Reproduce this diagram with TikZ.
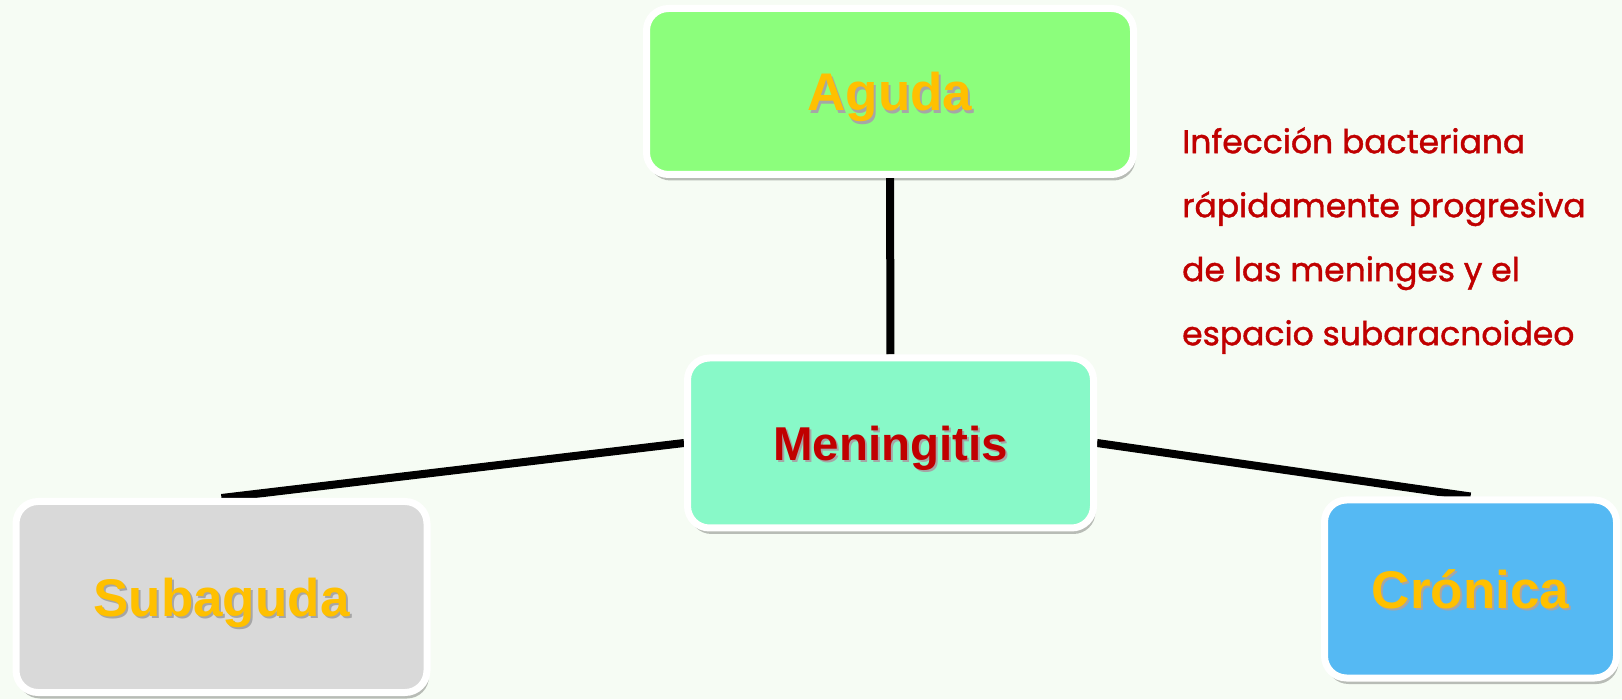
\documentclass[tikz,border=0pt]{standalone}
\usepackage{fontspec}
\setmainfont{Liberation Sans}
\newfontfamily\handfont[FakeBold=1.2]{Poppins}
\usetikzlibrary{positioning,backgrounds,shadows}
\definecolor{paper}{HTML}{F6FCF4}
\definecolor{acute}{HTML}{8CFE7C}
\definecolor{core}{HTML}{88F9C8}
\definecolor{subacute}{HTML}{D9D9D9}
\definecolor{chronic}{HTML}{55B9F3}
\definecolor{gold}{HTML}{FFC000}
\definecolor{darkred}{HTML}{C00000}
\definecolor{ink}{HTML}{000000}
\newcommand{\shadowtext}[1]{\makebox[0pt][l]{\kern2pt\raisebox{-2.5pt}{\textcolor{black!35}{#1}}}#1}
\tikzset{
  box/.style={draw=white,line width=7pt,rounded corners=22pt,inner sep=0pt,align=center,
    text depth=0pt,font=\bfseries\fontsize{53}{60}\selectfont,text=gold,
    drop shadow={shadow xshift=2pt,shadow yshift=-6pt,opacity=.25,fill=black}},
  acutebox/.style={box,fill=acute,minimum width=487pt,minimum height=166pt},
  corebox/.style={box,fill=core,minimum width=406pt,minimum height=170pt,
    font=\bfseries\fontsize{47.5}{54}\selectfont,text=darkred},
  subacutebox/.style={box,fill=subacute,minimum width=411pt,minimum height=191pt},
  chronicbox/.style={box,fill=chronic,minimum width=292pt,minimum height=178pt},
  link/.style={draw=ink,line width=8pt},
  note/.style={align=left,inner sep=0pt,text=darkred,font=\handfont\fontsize{33}{64}\selectfont},
}
\begin{document}
\begin{tikzpicture}[x=1pt,y=1pt]
\useasboundingbox (0,0) rectangle (1622,699);

\node[acutebox] (aguda) at (890,607.5) {\shadowtext{Aguda}};
\node[corebox] (meningitis) at (890.5,256) {\shadowtext{Meningitis}};
\node[subacutebox] (subaguda) at (221.5,102) {\shadowtext{Subaguda}};
\node[chronicbox] (cronica) at (1470.5,110) {\shadowtext{Crónica}};

\node[note,anchor=north west] (def) at (1182,572)
{Infección bacteriana\\rápidamente progresiva\\de las meninges y el\\espacio subaracnoideo};

\begin{scope}[on background layer]
\fill[paper] (0,0) rectangle (1622,699);
\draw[link] (aguda) -- (meningitis);
\draw[link] (meningitis.west) -- (subaguda.north);
\draw[link] (meningitis.east) -- (cronica.north);
\end{scope}

\end{tikzpicture}
\end{document}
